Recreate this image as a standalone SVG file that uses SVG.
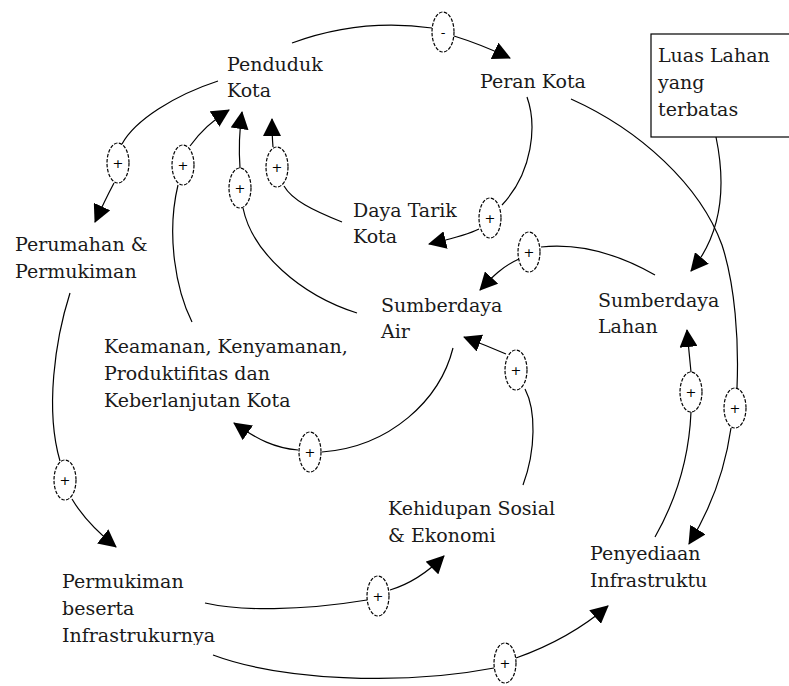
<svg xmlns="http://www.w3.org/2000/svg" width="789" height="686" viewBox="0 0 789 686">
<style>
.t{font-family:"DejaVu Serif","Liberation Serif",serif;font-size:19px;fill:#1a1a1a}
.c{fill:none;stroke:#000;stroke-width:1.2}
.a{marker-end:url(#ah)}
.e{fill:#fff;stroke:#000;stroke-width:1.2;stroke-dasharray:3.5 1.5}
.s{font-family:"DejaVu Sans","Liberation Sans",sans-serif;font-size:13px;text-anchor:middle;fill:#000}
</style>
<defs>
<marker id="ah" markerUnits="userSpaceOnUse" markerWidth="18" markerHeight="18" viewBox="0 0 18 18" refX="17" refY="9" orient="auto">
<path d="M0,0 L18,9 L0,18 z" fill="#000"/>
</marker>
<clipPath id="clipPB"><rect x="0" y="560" width="300" height="85"/></clipPath>
</defs>
<rect width="789" height="686" fill="#fff"/>

<g id="connectors">
<path class="c" d="M292,43 Q360,18 432,28"/>
<path class="c a" d="M454,36 Q480,44 510,58"/>
<path class="c" d="M218,81 C175,95 135,120 122,144"/>
<path class="c a" d="M114,183 Q105,200 95,222"/>
<path class="c" d="M192,322 C176,290 166,235 178,185"/>
<path class="c a" d="M190,146 Q205,125 229,110"/>
<path class="c" d="M357,313 C300,295 252,252 243,208"/>
<path class="c a" d="M240,168 Q238,140 242,112"/>
<path class="c" d="M342,222 C312,210 292,200 284,186"/>
<path class="c a" d="M273,147 Q272,135 272,119"/>
<path class="c" d="M527,97 C537,125 533,172 502,205"/>
<path class="c a" d="M479,229 C465,236 450,239 429,244"/>
<path class="c" d="M655,275 C620,255 580,243 541,247"/>
<path class="c a" d="M519,259 C503,266 492,277 480,290"/>
<path class="c" d="M523,485 C536,450 536,410 525,389"/>
<path class="c a" d="M506,354 Q485,345 464,337"/>
<path class="c" d="M453,348 C440,400 390,447 322,452"/>
<path class="c a" d="M298,450 C275,448 258,440 234,423"/>
<path class="c" d="M70,293 C55,340 45,410 60,461"/>
<path class="c a" d="M72,499 C82,516 96,531 116,547"/>
<path class="c" d="M205,603 C240,611 300,611 367,600"/>
<path class="c a" d="M390,590 C410,584 426,574 444,556"/>
<path class="c" d="M213,655 C280,680 400,686 494,668"/>
<path class="c a" d="M516,658 C550,646 580,630 608,606"/>
<path class="c" d="M655,537 C676,500 689,460 691,412"/>
<path class="c a" d="M691,372 Q689,352 687,330"/>
<path class="c" d="M571,99 C640,130 700,185 722,245 C735,285 739,340 737,388"/>
<path class="c a" d="M731,428 C725,470 710,510 689,544"/>
<path class="c a" d="M716,137 C727,190 721,235 691,271"/>
</g>

<g id="polarity">
<g id="p1"><ellipse class="e" cx="443" cy="32" rx="11" ry="20"/><text class="s" x="443" y="37">-</text></g>
<g id="p2"><ellipse class="e" cx="118" cy="163" rx="11" ry="20"/><text class="s" x="118" y="168">+</text></g>
<g id="p3"><ellipse class="e" cx="183" cy="165" rx="11" ry="20"/><text class="s" x="183" y="170">+</text></g>
<g id="p4"><ellipse class="e" cx="240" cy="188" rx="11" ry="20"/><text class="s" x="240" y="193">+</text></g>
<g id="p5"><ellipse class="e" cx="277" cy="167" rx="11" ry="20"/><text class="s" x="277" y="172">+</text></g>
<g id="p6"><ellipse class="e" cx="490" cy="218" rx="11" ry="20"/><text class="s" x="490" y="223">+</text></g>
<g id="p7"><ellipse class="e" cx="529" cy="252" rx="11" ry="20"/><text class="s" x="529" y="257">+</text></g>
<g id="p8"><ellipse class="e" cx="516" cy="370" rx="11" ry="20"/><text class="s" x="516" y="375">+</text></g>
<g id="p9"><ellipse class="e" cx="310" cy="452" rx="11" ry="20"/><text class="s" x="310" y="457">+</text></g>
<g id="p10"><ellipse class="e" cx="65" cy="480" rx="11" ry="20"/><text class="s" x="65" y="485">+</text></g>
<g id="p11"><ellipse class="e" cx="378" cy="596" rx="11" ry="20"/><text class="s" x="378" y="601">+</text></g>
<g id="p12"><ellipse class="e" cx="505" cy="663" rx="11" ry="20"/><text class="s" x="505" y="668">+</text></g>
<g id="p13"><ellipse class="e" cx="691" cy="392" rx="11" ry="20"/><text class="s" x="691" y="397">+</text></g>
<g id="p14"><ellipse class="e" cx="735" cy="408" rx="11" ry="20"/><text class="s" x="735" y="413">+</text></g>
</g>

<g id="penduduk"><text class="t" x="227" y="71">Penduduk</text><text class="t" x="227" y="97">Kota</text></g>
<g id="peran"><text class="t" x="480" y="88">Peran Kota</text></g>
<g id="luas"><rect x="651" y="34" width="145" height="103" fill="#fff" stroke="#000" stroke-width="1.2"/>
<text class="t" x="658" y="62">Luas Lahan</text><text class="t" x="658" y="89">yang</text><text class="t" x="658" y="116">terbatas</text></g>
<g id="daya"><text class="t" x="353" y="217">Daya Tarik</text><text class="t" x="353" y="243">Kota</text></g>
<g id="perumahan"><text class="t" x="15" y="251">Perumahan &amp;</text><text class="t" x="15" y="278">Permukiman</text></g>
<g id="air"><text class="t" x="381" y="312">Sumberdaya</text><text class="t" x="381" y="338">Air</text></g>
<g id="lahan"><text class="t" x="598" y="307">Sumberdaya</text><text class="t" x="598" y="333">Lahan</text></g>
<g id="keamanan"><text class="t" x="104" y="353">Keamanan, Kenyamanan,</text><text class="t" x="104" y="380">Produktifitas dan</text><text class="t" x="104" y="407">Keberlanjutan Kota</text></g>
<g id="kehidupan"><text class="t" x="388" y="515">Kehidupan Sosial</text><text class="t" x="388" y="542">&amp; Ekonomi</text></g>
<g id="permukiman" clip-path="url(#clipPB)"><text class="t" x="62" y="588">Permukiman</text><text class="t" x="62" y="615">beserta</text><text class="t" x="62" y="642">Infrastrukurnya</text></g>
<g id="penyediaan"><text class="t" x="590" y="560">Penyediaan</text><text class="t" x="590" y="587">Infrastruktu</text></g>
</svg>
